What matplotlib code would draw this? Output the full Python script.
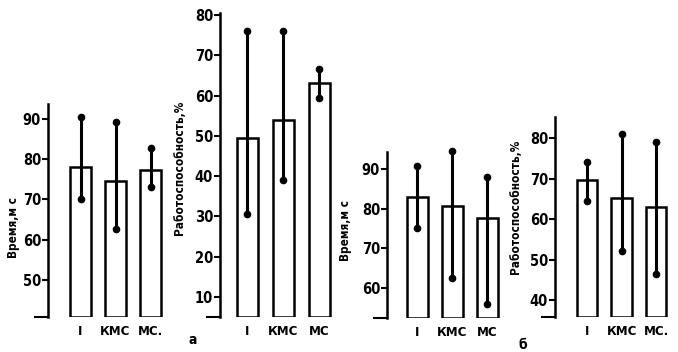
import numpy as np
import matplotlib.pyplot as plt

plt.rcParams['font.family'] = ['DejaVu Sans']
plt.rcParams['font.stretch'] = 'condensed'
plt.rcParams['font.weight'] = 'bold'

W, H = 678, 352

groups = ["I", "КМС", "МС"]

# панель 1 - время (а)
time_a = [78.0, 74.5, 77.3]
time_a_lo = [70.0, 62.5, 73.0]
time_a_hi = [90.4, 89.2, 82.7]

# панель 2 - работоспособность (а)
work_a = [49.5, 54.0, 63.0]
work_a_lo = [30.5, 39.0, 59.5]
work_a_hi = [76.0, 76.0, 66.5]

# панель 3 - время (б)
time_b = [83.0, 80.7, 77.7]
time_b_lo = [75.2, 62.5, 56.0]
time_b_hi = [90.8, 94.5, 88.0]

# панель 4 - работоспособность (б)
work_b = [69.7, 65.2, 63.0]
work_b_lo = [64.5, 52.0, 46.5]
work_b_hi = [74.0, 81.0, 79.0]

fig = plt.figure(figsize=(W / 100, H / 100), dpi=100)


def panel(x0, ytop, ybot, off, step, lims, ticks, vals, lo, hi, ylab, xlabs, labx, laby):
    xmin, xmax = -off, 2.5
    wpx = (xmax - xmin) * step
    ax = fig.add_axes([x0 / W, 1 - ybot / H, wpx / W, (ybot - ytop) / H])
    x = np.arange(len(vals))
    ax.bar(x, np.array(vals) - lims[0], bottom=lims[0], width=0.6,
           facecolor='white', edgecolor='black', linewidth=1.8)
    for xi, l, h in zip(x, lo, hi):
        ax.plot([xi, xi], [l, h], color='black', lw=2.2, solid_capstyle='butt', clip_on=False)
        ax.plot([xi, xi], [l, h], 'o', color='black', ms=4.5, clip_on=False)
    ax.set_xlim(xmin, xmax)
    ax.set_ylim(*lims)
    ax.set_yticks(ticks)
    ax.set_yticklabels([str(t) for t in ticks], fontsize=10.5)
    ax.set_yticks([lims[0]], minor=True)
    ax.tick_params(axis='y', which='major', length=4, width=1.5, pad=1)
    ax.tick_params(axis='y', which='minor', length=10, width=1.5)
    ax.tick_params(axis='x', length=0, pad=6)
    ax.set_xticks(x)
    ax.set_xticklabels(xlabs, fontsize=9.5)
    for s in ['top', 'right', 'bottom']:
        ax.spines[s].set_visible(False)
    ax.spines['left'].set_linewidth(1.8)
    ax.set_ylabel(ylab, fontsize=8.5, fontweight='semibold')
    ax.yaxis.set_label_coords((labx - x0) / wpx, laby)
    return ax


panel(48, 104, 317, 0.93, 35, (40.8, 93.6), [50, 60, 70, 80, 90],
      time_a, time_a_lo, time_a_hi, "Время,м с", ["I", "КМС", "МС."], 20, 0.42)
panel(220, 13, 317, 0.76, 36, (5, 80.5), [10, 20, 30, 40, 50, 60, 70, 80],
      work_a, work_a_lo, work_a_hi, "Работоспособность,%", groups, 186, 0.49)
panel(387, 152, 318, 0.86, 35, (52.4, 94.3), [60, 70, 80, 90],
      time_b, time_b_lo, time_b_hi, "Время,м с", groups, 352, 0.53)
panel(555, 117, 317, 0.93, 34.5, (35.8, 85.2), [40, 50, 60, 70, 80],
      work_b, work_b_lo, work_b_hi, "Работоспособность,%", ["I", "КМС", "МС."], 522, 0.55)

fig.text(193 / W, 1 - 340 / H, "а", fontsize=10, ha='center', va='center')
fig.text(523 / W, 1 - 345 / H, "б", fontsize=10, ha='center', va='center')

fig.savefig("out.png", dpi=100)
